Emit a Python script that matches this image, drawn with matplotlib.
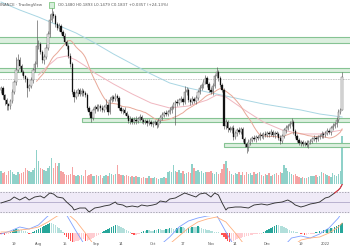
import numpy as np
import pandas as pd
import matplotlib
matplotlib.use("Agg")
import matplotlib.pyplot as plt
from matplotlib.patches import Rectangle
import matplotlib.transforms as mtrans

# ---------------- data ----------------
start_date = "2021-07-12"
first_open = 0.1696
closes = [
    0.1718, 0.1642, 0.1588, 0.1545, 0.1523, 0.1577, 0.1674, 0.1782, 0.1912, 0.2020,
    0.1955, 0.1890, 0.1847, 0.1815, 0.1718, 0.1739, 0.1804, 0.1912, 0.1977, 0.2171,
    0.2193, 0.2106, 0.2020, 0.2052, 0.2150, 0.2301, 0.2452, 0.2517, 0.2495, 0.2409,
    0.2366, 0.2387, 0.2322, 0.2279, 0.2214, 0.2171, 0.2063, 0.1977, 0.1674, 0.1620,
    0.1664, 0.1696, 0.1653, 0.1685, 0.1664, 0.1642, 0.1502, 0.1458, 0.1394, 0.1480,
    0.1512, 0.1491, 0.1523, 0.1502, 0.1480, 0.1512, 0.1534, 0.1458, 0.1588, 0.1620,
    0.1599, 0.1631, 0.1610, 0.1502, 0.1469, 0.1480, 0.1448, 0.1415, 0.1361, 0.1383,
    0.1350, 0.1372, 0.1361, 0.1383, 0.1404, 0.1372, 0.1350, 0.1361, 0.1340, 0.1350,
    0.1329, 0.1340, 0.1350, 0.1318, 0.1361, 0.1404, 0.1426, 0.1448, 0.1437, 0.1458,
    0.1480, 0.1512, 0.1545, 0.1566, 0.1556, 0.1588, 0.1599, 0.1566, 0.1674, 0.1696,
    0.1588, 0.1566, 0.1599, 0.1577, 0.1610, 0.1674, 0.1718, 0.1750, 0.1782, 0.1826,
    0.1761, 0.1696, 0.1674, 0.1739, 0.1847, 0.1890, 0.1826, 0.1750, 0.1696, 0.1307,
    0.1350, 0.1286, 0.1264, 0.1286, 0.1188, 0.1232, 0.1264, 0.1242, 0.1275, 0.1167,
    0.1113, 0.1080, 0.1134, 0.1156, 0.1178, 0.1167, 0.1188, 0.1178, 0.1210, 0.1199,
    0.1221, 0.1210, 0.1232, 0.1221, 0.1242, 0.1210, 0.1232, 0.1221, 0.1178, 0.1145,
    0.1199, 0.1264, 0.1286, 0.1307, 0.1329, 0.1350, 0.1253, 0.1199, 0.1156, 0.1124,
    0.1134, 0.1113, 0.1124, 0.1102, 0.1134, 0.1145, 0.1167, 0.1178, 0.1167, 0.1188,
    0.1199, 0.1221, 0.1210, 0.1232, 0.1253, 0.1242, 0.1286, 0.1307, 0.1329, 0.1372,
    0.1458, 0.1480, 0.1837,
]
upper_wick_milli = [
    2, 2, 1, 2, 1, 2, 3, 2, 14, 6,
    3, 2, 2, 1, 2, 2, 3, 2, 3, 28,
    4, 2, 2, 3, 4, 3, 6, 8, 3, 2,
    2, 3, 2, 2, 3, 2, 2, 3, 2, 3,
    3, 2, 2, 3, 2, 2, 2, 2, 1, 2,
    2, 3, 2, 2, 3, 2, 6, 2, 3, 2,
    2, 3, 2, 2, 2, 2, 3, 2, 2, 3,
    2, 3, 4, 2, 3, 2, 2, 2, 2, 3,
    2, 2, 2, 2, 3, 2, 3, 2, 3, 2,
    3, 2, 2, 2, 3, 2, 3, 2, 7, 3,
    2, 2, 3, 2, 3, 2, 3, 2, 3, 3,
    2, 2, 3, 3, 2, 5, 2, 2, 2, 2,
    3, 2, 2, 2, 3, 2, 2, 3, 2, 2,
    2, 2, 3, 2, 2, 3, 2, 2, 3, 2,
    2, 3, 2, 2, 3, 2, 2, 2, 2, 3,
    2, 2, 3, 2, 3, 4, 2, 2, 2, 2,
    2, 2, 2, 3, 2, 2, 2, 3, 2, 2,
    2, 3, 2, 2, 3, 2, 2, 3, 2, 3,
    3, 2, 5.6,
]
lower_wick_milli = [
    3, 4, 5, 6, 4, 3, 2, 2, 3, 2,
    2, 3, 2, 3, 10, 3, 2, 3, 2, 3,
    3, 2, 3, 4, 2, 2, 3, 2, 2, 3,
    2, 3, 2, 2, 2, 3, 2, 3, 2, 5,
    2, 3, 2, 2, 3, 2, 2, 3, 4, 2,
    3, 2, 2, 3, 2, 2, 2, 3, 2, 2,
    2, 2, 3, 2, 2, 3, 2, 2, 2, 3,
    2, 2, 3, 2, 2, 3, 2, 2, 3, 2,
    2, 3, 2, 3, 2, 2, 3, 2, 2, 2,
    2, 3, 2, 23, 3, 2, 2, 3, 2, 3,
    2, 3, 2, 2, 3, 2, 2, 2, 3, 2,
    3, 2, 2, 3, 2, 2, 3, 2, 2, 3,
    3, 4, 2, 3, 3, 2, 3, 2, 2, 3,
    3, 6, 4, 3, 2, 2, 3, 2, 2, 2,
    3, 2, 2, 3, 2, 2, 3, 2, 2, 3,
    2, 2, 3, 2, 2, 2, 3, 2, 2, 2,
    3, 2, 2, 2, 3, 2, 2, 2, 3, 2,
    2, 2, 3, 2, 2, 2, 3, 2, 2, 3,
    2, 2, 0.1,
]
volume_m = [
    13, 11, 12, 9, 13, 14, 12, 10, 9, 12,
    10, 11, 12, 16, 14, 13, 12, 14, 16, 34,
    23, 16, 15, 14, 13, 16, 18, 26, 16, 21,
    18, 21, 13, 12, 10, 9, 9, 10, 17, 9,
    8, 9, 8, 9, 8, 14, 8, 9, 10, 8,
    8, 9, 8, 9, 6, 8, 9, 8, 11, 10,
    9, 10, 19, 10, 9, 9, 8, 9, 8, 7,
    8, 7, 8, 7, 7, 6, 7, 6, 6, 8,
    6, 6, 7, 6, 5, 6, 6, 7, 6, 12,
    13, 12, 19, 13, 12, 14, 11, 13, 10, 11,
    12, 11, 20, 16, 13, 14, 12, 13, 11, 12,
    12, 12, 13, 11, 10, 12, 10, 11, 15, 20,
    23, 16, 13, 10, 9, 11, 10, 12, 9, 12,
    9, 12, 10, 11, 9, 12, 10, 11, 12, 9,
    8, 10, 9, 11, 8, 9, 10, 11, 9, 12,
    11, 19, 16, 13, 12, 10, 9, 10, 8, 7,
    6, 7, 6, 6, 7, 8, 8, 8, 9, 7,
    8, 12, 11, 10, 9, 8, 7, 11, 9, 8,
    10, 13, 48,
]
ma_long_days = [0, 10, 20, 30, 40, 50, 60, 70, 80, 90, 100, 110, 120, 130, 140, 150, 160, 170, 182]
ma_long_vals = [0.2646, 0.2560, 0.2484, 0.2398, 0.2312, 0.2204, 0.2085, 0.1977, 0.1869, 0.1772,
                0.1718, 0.1674, 0.1631, 0.1588, 0.1545, 0.1512, 0.1480, 0.1437, 0.1404]
ma_mid_days = [20, 25, 30, 35, 40, 45, 50, 60, 70, 80, 90, 100, 110, 115, 120, 130, 140, 150, 160, 170, 182]
ma_mid_vals = [0.1858, 0.1955, 0.2042, 0.2063, 0.2020, 0.1955, 0.1880, 0.1761, 0.1653, 0.1556, 0.1502,
               0.1523, 0.1588, 0.1642, 0.1620, 0.1480, 0.1350, 0.1264, 0.1221, 0.1221, 0.1264]
ma_short_period = 20

rsi_days = [0, 5, 7, 10, 13, 15, 18, 21, 23, 26, 28, 30, 33, 35, 38, 39, 42, 45, 47, 50, 53, 55, 58, 61,
            62, 65, 67, 70, 73, 75, 78, 81, 83, 85, 88, 90, 93, 96, 98, 101, 104, 106, 109, 112, 114,
            116, 118, 120, 121, 125, 128, 132, 135, 139, 142, 146, 150, 153, 155, 157, 160, 162, 165,
            168, 170, 173, 175, 178, 180, 181, 182]
rsi_vals = [48, 54, 60, 54, 60, 54, 60, 62, 58, 68, 66, 60, 58, 50, 40, 34, 38, 38, 30, 38, 40, 42, 44, 50,
            46, 44, 40, 42, 40, 44, 42, 44, 46, 52, 50, 56, 58, 64, 68, 64, 60, 66, 68, 60, 68,
            64, 48, 34, 38, 40, 40, 38, 44, 46, 44, 48, 50, 54, 50, 44, 40, 42, 46,
            48, 50, 58, 60, 68, 74, 78, 85]

macd_days = [0, 5, 10, 15, 20, 25, 30, 35, 40, 45, 50, 55, 60, 65, 70, 75, 80, 85, 90, 95,
             100, 105, 110, 115, 120, 125, 130, 135, 140, 145, 150, 155, 160, 165, 170, 175, 180, 182]
macd_e4 = [-4, 8, 24, 16, 32, 68, 88, 72, 8, -52, -92, -104, -96, -92, -88, -84, -72, -48, -16, 24,
           48, 60, 68, 72, 4, -60, -100, -116, -116, -92, -60, -20, -12, -20, -4, 20, 60, 84]
signal_e4 = [4, 4, 12, 16, 24, 44, 68, 80, 48, 0, -52, -80, -92, -96, -92, -88, -80, -68, -44, -12,
             20, 44, 56, 64, 44, 0, -48, -80, -100, -104, -84, -56, -28, -20, -16, 0, 24, 40]
hist_e4 = [
    -4, -4, -6, -4, -2,
    4, 8, 12, 16, 16, 14, 12, 10, 8, 4,
    -4, -4,
    4, 8, 12, 16, 20, 24, 28, 32,
    36, 40, 40, 36, 32,
    24, 20, 12, 4,
    -8, -16, -24, -32, -36, -36, -32, -32,
    -28, -24, -24, -32, -32, -28, -24,
    -20, -16, -12, -8, -4,
    4, 8, 12, 16, 20, 24, 28, 32, 32, 28, 24, 20, 16, 12, 8, 4,
    -4, -8, -8, -4, -4,
    4, 8, 8, 12, 12, 8, 8, 12, 12, 16, 16, 12, 12, 16, 16, 20, 20, 16,
    16, 20, 20, 24, 24, 20, 16, 20, 20, 24, 24,
    24, 28, 24, 20, 16, 16, 12, 12, 8, 8, 4, 4, 4, 2,
    -8, -16, -24, -32, -36, -36, -32, -28, -24, -20, -20, -16, -16,
    -12, -12, -8, -8, -4, -4, -4, -2, -2,
    4, 8, 12, 16, 20, 24, 28, 32, 32, 28, 28, 24, 20, 16, 12, 8, 8, 4, 4, 2,
    -4, -4, -8, -8, -4, -4, -2, -2,
    4, 4, 8, 8, 12, 12, 16, 16, 20, 20, 24, 28, 32, 36, 40,
]

zone_low = [0.2204, 0.1890, 0.1350, 0.1080]
zone_high = [0.2268, 0.1937, 0.1394, 0.1124]
zone_start = ["2021-07-01", "2021-07-01", "2021-08-24", "2021-11-08"]
level_line = 0.1815

tick_dates = ["2021-07-19", "2021-08-01", "2021-08-15", "2021-09-01", "2021-09-14", "2021-10-01",
              "2021-10-17", "2021-11-01", "2021-11-14", "2021-12-01", "2021-12-19", "2022-01-01"]
tick_labels = ["19", "Aug", "15", "Sep", "14", "Oct", "17", "Nov", "14", "Dec", "19", "2022"]

header_left = "INANCE · TradingView"
header_ohlc = "O0.1480 H0.1893 L0.1479 C0.1837 +0.0357 (+24.13%)"

# ---------------- derived ----------------
n = len(closes)
t0 = pd.Timestamp(start_date)
xs = np.arange(n)
c = np.array(closes)
o = np.array([first_open] + closes[:-1])
hi = np.maximum(o, c) + np.array(upper_wick_milli) / 1000.0
lo = np.minimum(o, c) - np.array(lower_wick_milli) / 1000.0
up = c >= o

def day(d):
    return (pd.Timestamp(d) - t0).days

XL = (-0.53, 186.2)

fig = plt.figure(figsize=(3.5, 2.5), dpi=100)
fig.patch.set_facecolor("white")

# volume (overlay at bottom of main pane)
axv = fig.add_axes([0, 1 - 184 / 250, 1, 54 / 250])
axv.set_facecolor("none")
vcol = np.where(up, "#8fd1c9", "#f5a3a3")
axv.bar(xs, volume_m, width=0.75, color=vcol, linewidth=0)
axv.set_xlim(*XL)
axv.set_ylim(0, 54)
axv.axis("off")

# main price pane
ax = fig.add_axes([0, 1 - 184 / 250, 1, 184 / 250])
ax.set_facecolor("none")
ax.set_xlim(*XL)
ax.set_ylim(0.06808, 0.2668)
ax.axis("off")
for zl, zh, zs in zip(zone_low, zone_high, zone_start):
    x0 = max(day(zs), XL[0] - 5)
    ax.add_patch(Rectangle((x0, zl), XL[1] + 5 - x0, zh - zl, facecolor="#dcefdf",
                           edgecolor="#86c393", linewidth=0.8, zorder=1))
ax.axhline(level_line, color="#c4c4c4", linewidth=0.6, linestyle=(0, (2, 1)), zorder=1)

ax.plot(ma_long_days, ma_long_vals, color="#a9d6e3", linewidth=0.7, zorder=2)
ax.plot(ma_mid_days, ma_mid_vals, color="#f0b7c0", linewidth=0.7, zorder=2)
ma_short = pd.Series(closes).rolling(ma_short_period).mean()
ax.plot(xs, ma_short, color="#e8a898", linewidth=0.7, zorder=2)

ax.vlines(xs, lo, hi, color="#555555", linewidth=0.45, zorder=3)
body_b = np.minimum(o, c)
body_h = np.maximum(np.abs(c - o), 0.0006)
ax.bar(xs[up], body_h[up], bottom=body_b[up], width=0.75, color="#f4f4f4",
       edgecolor="#666666", linewidth=0.35, zorder=4)
ax.bar(xs[~up], body_h[~up], bottom=body_b[~up], width=0.75, color="#111111",
       edgecolor="#111111", linewidth=0.2, zorder=4)

# RSI pane
axr = fig.add_axes([0, 1 - 216 / 250, 1, 32 / 250])
axr.set_facecolor("none")
axr.set_xlim(*XL)
axr.set_ylim(22, 86)
axr.axis("off")
axr.axhspan(30, 70, color="#efeaf7", zorder=0)
axr.axhline(70, color="#8e8e99", linewidth=0.5, linestyle=(0, (2, 2)))
axr.axhline(30, color="#8e8e99", linewidth=0.5, linestyle=(0, (2, 2)))
axr.axhline(50, color="#a49cc0", linewidth=0.5)
rd = np.array(rsi_days)
rv = np.array(rsi_vals, dtype=float)
axr.plot(rd, rv, color="#333333", linewidth=0.65, zorder=3)
m = rv >= 70
if m.any():
    first = np.argmax(m)
    axr.plot(rd[first - 1:], rv[first - 1:], color="#f23645", linewidth=0.7, zorder=4)

# MACD pane
axm = fig.add_axes([0, 1 - 242 / 250, 1, 26 / 250])
axm.set_facecolor("none")
axm.set_xlim(*XL)
axm.set_ylim(-36, 68)
axm.axis("off")
h = np.array(hist_e4, dtype=float)
prev = np.concatenate([[0], h[:-1]])
hcol = np.where(h >= 0, np.where(h > prev, "#26a69a", "#b2dfdb"),
                np.where(h < prev, "#ff5252", "#ffcdd2"))
axm.bar(xs, h, width=0.75, color=hcol, linewidth=0)
axm.plot(macd_days, macd_e4, color="#7fa0ff", linewidth=0.6)
axm.plot(macd_days, signal_e4, color="#ffb07f", linewidth=0.6)

# x-axis labels
tr = mtrans.blended_transform_factory(axm.transData, fig.transFigure)
for d, lab in zip(tick_dates, tick_labels):
    fig.text(day(d), 1 - 244 / 250, lab, transform=tr, ha="center", va="center",
             fontsize=2.6, color="#555555")

# header
fig.text(0.0, 1 - 5 / 250, header_left, ha="left", va="center", fontsize=2.8, color="#555555")
fig.patches.append(Rectangle((49 / 350, 1 - 7.5 / 250), 5 / 350, 5 / 250, transform=fig.transFigure,
                             facecolor="#d6eedb", edgecolor="#4caf50", linewidth=0.4, figure=fig))
fig.text(58 / 350, 1 - 5 / 250, header_ohlc, ha="left", va="center", fontsize=2.8, color="#555555")

fig.savefig("out.png", dpi=100, facecolor="white")
